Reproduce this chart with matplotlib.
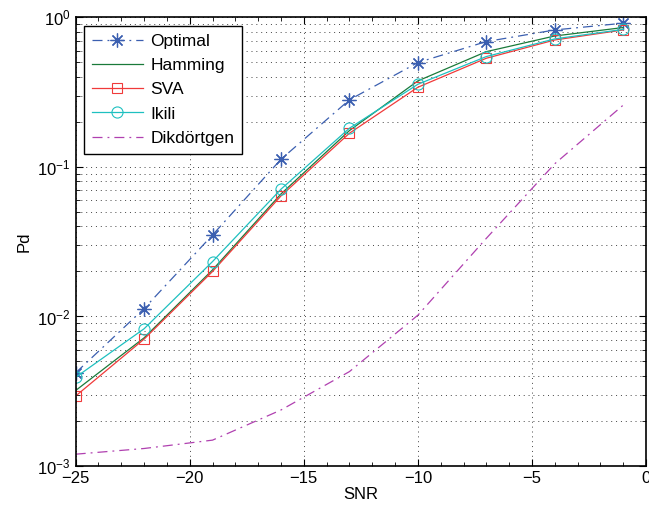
import numpy as np
import matplotlib
matplotlib.use('Agg')
import matplotlib.pyplot as plt
from matplotlib.ticker import LogLocator, MultipleLocator, NullFormatter

plt.rcParams['font.family'] = ['Liberation Sans', 'DejaVu Sans']

# SNR values (dB)
snr = [-25, -22, -19, -16, -13, -10, -7, -4, -1]

# Detection probabilities
pd_optimal = [0.0042, 0.0113, 0.0351, 0.1125, 0.281, 0.499, 0.689, 0.824, 0.914]
pd_hamming = [0.0032, 0.0072, 0.0205, 0.066, 0.175, 0.376, 0.59, 0.751, 0.855]
pd_sva = [0.00294, 0.00706, 0.0200, 0.064, 0.168, 0.341, 0.533, 0.706, 0.824]
pd_ikili = [0.00392, 0.00828, 0.0233, 0.071, 0.1815, 0.357, 0.547, 0.718, 0.831]
pd_dikdortgen = [0.0012, 0.00131, 0.00149, 0.00237, 0.00428, 0.0102, 0.0333, 0.105, 0.259]

fig = plt.figure(figsize=(6.49, 5.11), dpi=100)
ax = fig.add_axes([0.1166, 0.088, 0.8788, 0.878])

dashdot = (0, (8, 4, 1.5, 4))

ax.semilogy(snr, pd_optimal, color='#3b5fb0', linestyle=dashdot, lw=0.9,
            marker=(8, 2, 0), markersize=10, markeredgewidth=0.9, label='Optimal')
ax.semilogy(snr, pd_hamming, color='#1a7a3a', lw=0.9, label='Hamming')
ax.semilogy(snr, pd_sva, color='#f03a3a', lw=0.9, marker='s', markersize=7,
            markerfacecolor='none', markeredgewidth=0.8, label='SVA')
ax.semilogy(snr, pd_ikili, color='#1ec0c0', lw=0.9, marker='o', markersize=8,
            markerfacecolor='none', markeredgewidth=0.8, label='Ikili')
ax.semilogy(snr, pd_dikdortgen, color='#b040b0', linestyle=dashdot, lw=0.9,
            label='Dikdörtgen')

ax.set_xlim(-25, 0)
ax.set_ylim(1e-3, 1)
ax.xaxis.set_major_locator(MultipleLocator(5))
ax.xaxis.set_minor_locator(MultipleLocator(1))
ax.yaxis.set_major_locator(LogLocator(base=10, numticks=10))
ax.yaxis.set_minor_locator(LogLocator(base=10, subs=np.arange(2, 10), numticks=10))
ax.yaxis.set_minor_formatter(NullFormatter())

ax.tick_params(which='both', direction='in', top=True, right=True, labelsize=12)
ax.tick_params(which='major', length=5)
ax.tick_params(which='minor', length=3)

ax.grid(True, which='major', axis='both', linestyle=(0, (1, 4)), color='#444444', lw=0.7)
ax.grid(True, which='minor', axis='y', linestyle=(0, (1, 4)), color='#444444', lw=0.7)

for side in ax.spines.values():
    side.set_linewidth(1.2)

ax.set_xlabel('SNR', fontsize=12, labelpad=1)
ax.set_ylabel('Pd', fontsize=12)

leg = ax.legend(loc='upper left', fontsize=12.5, fancybox=False, framealpha=1,
                edgecolor='black', borderaxespad=0.5, handlelength=2.9,
                handletextpad=0.45, labelspacing=0.52, borderpad=0.45)
leg.get_frame().set_linewidth(1.0)

fig.savefig('out.png', dpi=100)
